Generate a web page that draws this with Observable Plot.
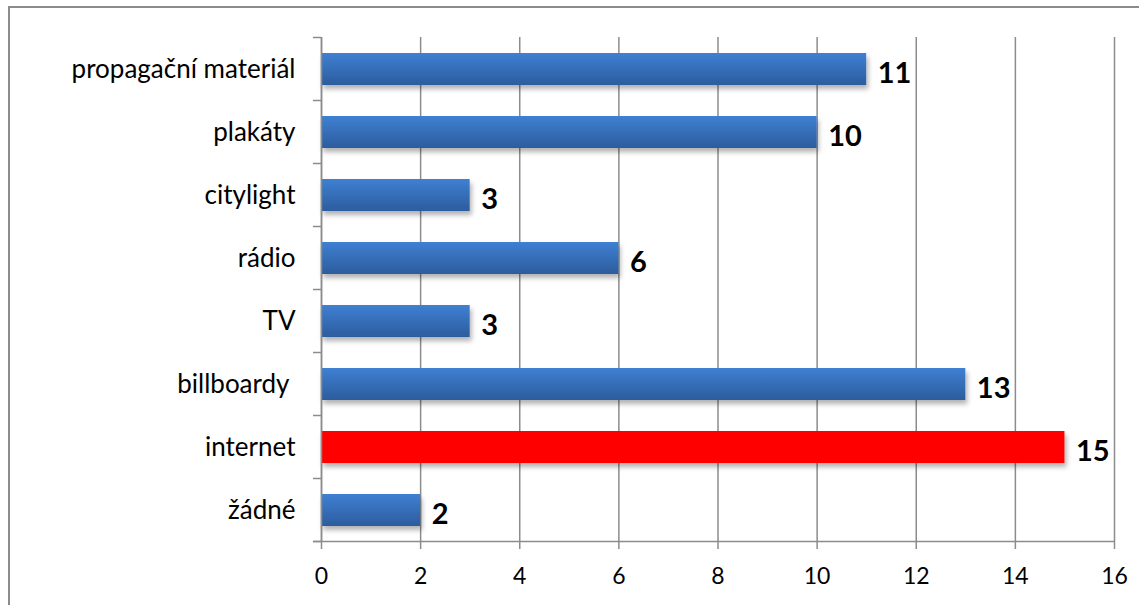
<!DOCTYPE html>
<html>
<head>
<meta charset="utf-8">
<script src="https://cdn.jsdelivr.net/npm/d3@7"></script>
<script src="https://cdn.jsdelivr.net/npm/@observablehq/plot@0.6"></script>
<style>
  html, body { margin: 0; padding: 0; background: #fff; }
  #wrap { position: relative; width: 1139px; height: 605px; overflow: hidden; }
  #border { position: absolute; left: 8px; top: 6px; width: 1140px; height: 620px; border: 2px solid #8c8c8c; box-sizing: border-box; pointer-events: none; }
  #chart { position: absolute; left: 0; top: 0; }
</style>
</head>
<body>
<div id="wrap"><div id="chart"></div><div id="border"></div></div>
<script>
const categories = ["propagační materiál", "plakáty", "citylight", "rádio", "TV", "billboardy ", "internet", "žádné"];
const values = [11, 10, 3, 6, 3, 13, 15, 2];
const highlighted = ["internet"];
const xTicks = [0, 2, 4, 6, 8, 10, 12, 14, 16];

const data = categories.map((c, i) => ({cat: c, value: values[i]}));
const BLUE = "#3a76c2";
const GRID = "#8c8c8c";

function boundaryTicks(index, scales, values, dimensions) {
  const y = scales.y;
  const bw = typeof y.bandwidth === "function" ? y.bandwidth() : y.bandwidth;
  const step = y(categories[1]) - y(categories[0]);
  const g = d3.create("svg:g").attr("stroke", GRID).attr("stroke-width", 1.5);
  const x0 = scales.x(0);
  const x1 = scales.x(xTicks[xTicks.length - 1]);
  const edges = categories.map(c => y(c) - (step - bw) / 2);
  edges.push(edges[edges.length - 1] + step);
  for (const e of edges) {
    g.append("line").attr("x1", x0 - 8).attr("x2", x0).attr("y1", e).attr("y2", e);
  }
  const last = edges[edges.length - 1];
  g.append("line").attr("x1", x0 - 8).attr("x2", x1).attr("y1", last).attr("y2", last);
  return g.node();
}

const plot = Plot.plot({
  width: 1139,
  height: 605,
  marginLeft: 321,
  marginRight: 25,
  marginTop: 37,
  marginBottom: 63,
  style: {fontFamily: "Lato, 'Open Sans', sans-serif", fontSize: "23px", color: "#000", background: "transparent"},
  x: {domain: [0, 16], label: null},
  y: {domain: categories, paddingInner: 0.5, paddingOuter: 0.25, label: null},
  color: {type: "identity"},
  marks: [
    Plot.gridX(xTicks, {stroke: GRID, strokeOpacity: 1, strokeWidth: 1.5}),
    Plot.barX(data, {
      x: "value",
      y: "cat",
      fill: d => highlighted.includes(d.cat) ? "red" : BLUE
    }),
    Plot.ruleX([0], {stroke: GRID, strokeWidth: 1.5}),
    Plot.axisX({ticks: xTicks, tickSize: 7, tickPadding: 18, stroke: GRID, strokeWidth: 1.5, fontSize: 23, tickFormat: d => d, fill: "#000"}),
    Plot.axisY({tickSize: 0, tickPadding: 26, fontSize: 26, fill: "#000"}),
    boundaryTicks,
    Plot.text(data, {
      x: "value",
      y: "cat",
      text: d => String(d.value),
      textAnchor: "start",
      dx: 11,
      dy: 4,
      fontWeight: "bold",
      fontSize: 29,
      fill: "#000"
    })
  ]
});

const svg = d3.select(plot);
const defs = svg.insert("defs", ":first-child");
const grad = defs.append("linearGradient").attr("id", "blueGrad").attr("x1", 0).attr("y1", 0).attr("x2", 0).attr("y2", 1);
grad.append("stop").attr("offset", "0%").attr("stop-color", "#3f80d3");
grad.append("stop").attr("offset", "100%").attr("stop-color", "#2c5c9d");
const filt = defs.append("filter").attr("id", "shadow").attr("x", "-10%").attr("y", "-30%").attr("width", "130%").attr("height", "180%");
filt.append("feDropShadow").attr("dx", 2).attr("dy", 4).attr("stdDeviation", 2.5).attr("flood-color", "#000").attr("flood-opacity", 0.3);
svg.selectAll("rect").each(function() {
  const r = d3.select(this);
  const f = (r.attr("fill") || "").toLowerCase();
  if (f === BLUE) r.attr("fill", "url(#blueGrad)");
  r.attr("filter", "url(#shadow)");
});
document.getElementById("chart").appendChild(plot);
</script>
</body>
</html>
